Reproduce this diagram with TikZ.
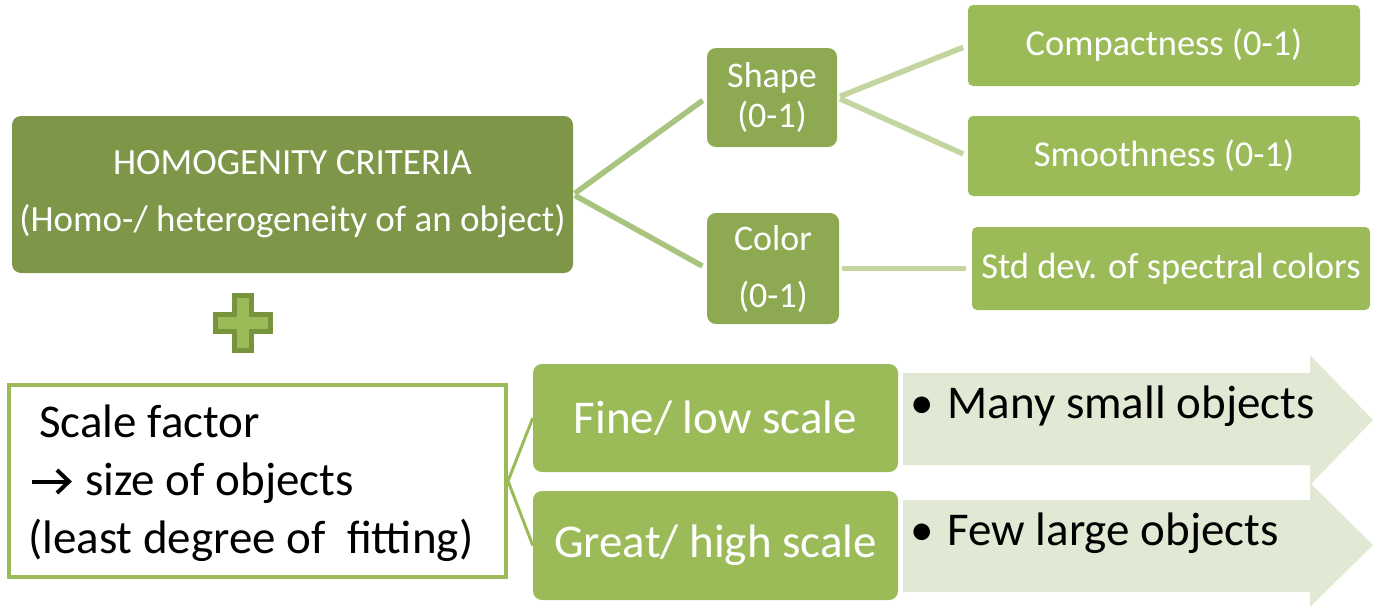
\documentclass[tikz,border=0pt]{standalone}
\usepackage{fontspec}
\setmainfont{Carlito}
\definecolor{cdark}{HTML}{7E9648}
\definecolor{cmid}{HTML}{8DAA52}
\definecolor{clight}{HTML}{9BBB59}
\definecolor{cline}{HTML}{A9C47F}
\definecolor{cline2}{HTML}{C3D6A0}
\definecolor{carrow}{HTML}{E1E9D4}
\definecolor{cplus}{HTML}{77933C}
\tikzset{
  box/.style={rectangle, rounded corners=9pt, inner sep=0pt, text=white, align=center},
  darkbox/.style={box, fill=cdark, font=\fontsize{37}{57}\selectfont},
  midbox/.style={box, fill=cmid, font=\fontsize{36}{40}\selectfont},
  leafbox/.style={box, rounded corners=5pt, fill=clight, font=\fontsize{36.5}{40}\selectfont},
  scalebox/.style={box, fill=clight, font=\fontsize{47}{50}\selectfont},
  conn/.style={line width=5.5pt, cline},
  conntwo/.style={line width=5.5pt, cline2},
  connthree/.style={line width=3pt, clight},
  arrowshape/.style={fill=carrow},
  glypharrow/.style={line width=4pt, black, miter limit=4},
  bullettext/.style={anchor=base west, inner sep=0pt, text=black, font=\fontsize{47}{50}\selectfont},
}
\begin{document}
\begin{tikzpicture}[x=1pt,y=-1pt]
\useasboundingbox (0,0) rectangle (1387,606);

% boxes top part
\node[darkbox, minimum width=561pt, minimum height=157pt] (homog) at (292.5,194.5)
  {HOMOGENITY CRITERIA\\(Homo-/ heterogeneity of an object)};
\node[midbox, minimum width=130pt, minimum height=99pt] (shape) at (772,97.5)
  {Shape\\(0-1)};
\node[midbox, font=\fontsize{36}{57}\selectfont, minimum width=132pt, minimum height=111pt] (color) at (773,268.5)
  {Color\\(0-1)};
\node[leafbox, minimum width=392pt, minimum height=81pt] (comp) at (1164,45.5)
  {Compactness (0-1)};
\node[leafbox, minimum width=392pt, minimum height=80pt] (smooth) at (1164,156)
  {Smoothness (0-1)};
\node[leafbox, minimum width=398pt, minimum height=83pt] (stddev) at (1171,268.5)
  {Std dev. of spectral colors};

% connectors top part
\draw[conn, shorten <=2pt, shorten >=5pt] (homog.east) -- (shape.west);
\draw[conn, shorten <=2pt, shorten >=5pt] (homog.east) -- (color.west);
\draw[conntwo, shorten <=3pt, shorten >=5pt] (shape.east) -- (comp.west);
\draw[conntwo, shorten <=3pt, shorten >=5pt] (shape.east) -- (smooth.west);
\draw[conntwo, shorten <=3pt, shorten >=6pt] (color.east) -- (stddev.west);

% plus sign
\draw[fill=clight, draw=cplus, line width=5pt]
  (234.5,295.5) -- (251.5,295.5) -- (251.5,314.5) -- (270.5,314.5) -- (270.5,331.5)
  -- (251.5,331.5) -- (251.5,350.5) -- (234.5,350.5) -- (234.5,331.5) -- (215.5,331.5)
  -- (215.5,314.5) -- (234.5,314.5) -- cycle;

% scale factor box
\node[rectangle, draw=clight, line width=4pt, fill=white, minimum width=497pt, minimum height=192pt, inner sep=0pt] (scale) at (257.5,481) {};
\node[anchor=west, inner sep=0pt, align=left, text=black, font=\fontsize{47}{58}\selectfont] (scaletext) at (28,483)
  {\hspace{11pt}Scale factor\\\hspace{57pt}size of objects\\(least degree of\ \ fitting)};
\draw[glypharrow] (32,481.5) -- (68,481.5);
\draw[glypharrow] (57,470) -- (69,481.5) -- (57,493);

% arrows
\path[arrowshape] (903,373) -- (1310,373) -- (1310,355) -- (1373,420) -- (1310,485) -- (1310,465) -- (903,465) -- cycle;
\path[arrowshape] (903,500) -- (1310,500) -- (1310,483) -- (1373,545) -- (1310,607) -- (1310,592) -- (903,592) -- cycle;

\node[scalebox, minimum width=365pt, minimum height=108pt] (fine) at (715.5,418) {Fine/ low scale};
\node[scalebox, minimum width=365pt, minimum height=109pt] (great) at (715.5,545.5) {Great/ high scale};

\draw[connthree] (scale.east) -- (fine.west);
\draw[connthree] (scale.east) -- (great.west);

\node[bullettext] (many) at (910,418) {\textbullet\hspace{14pt}Many small objects};
\node[bullettext] (few) at (910,545) {\textbullet\hspace{14pt}Few large objects};
\end{tikzpicture}
\end{document}
